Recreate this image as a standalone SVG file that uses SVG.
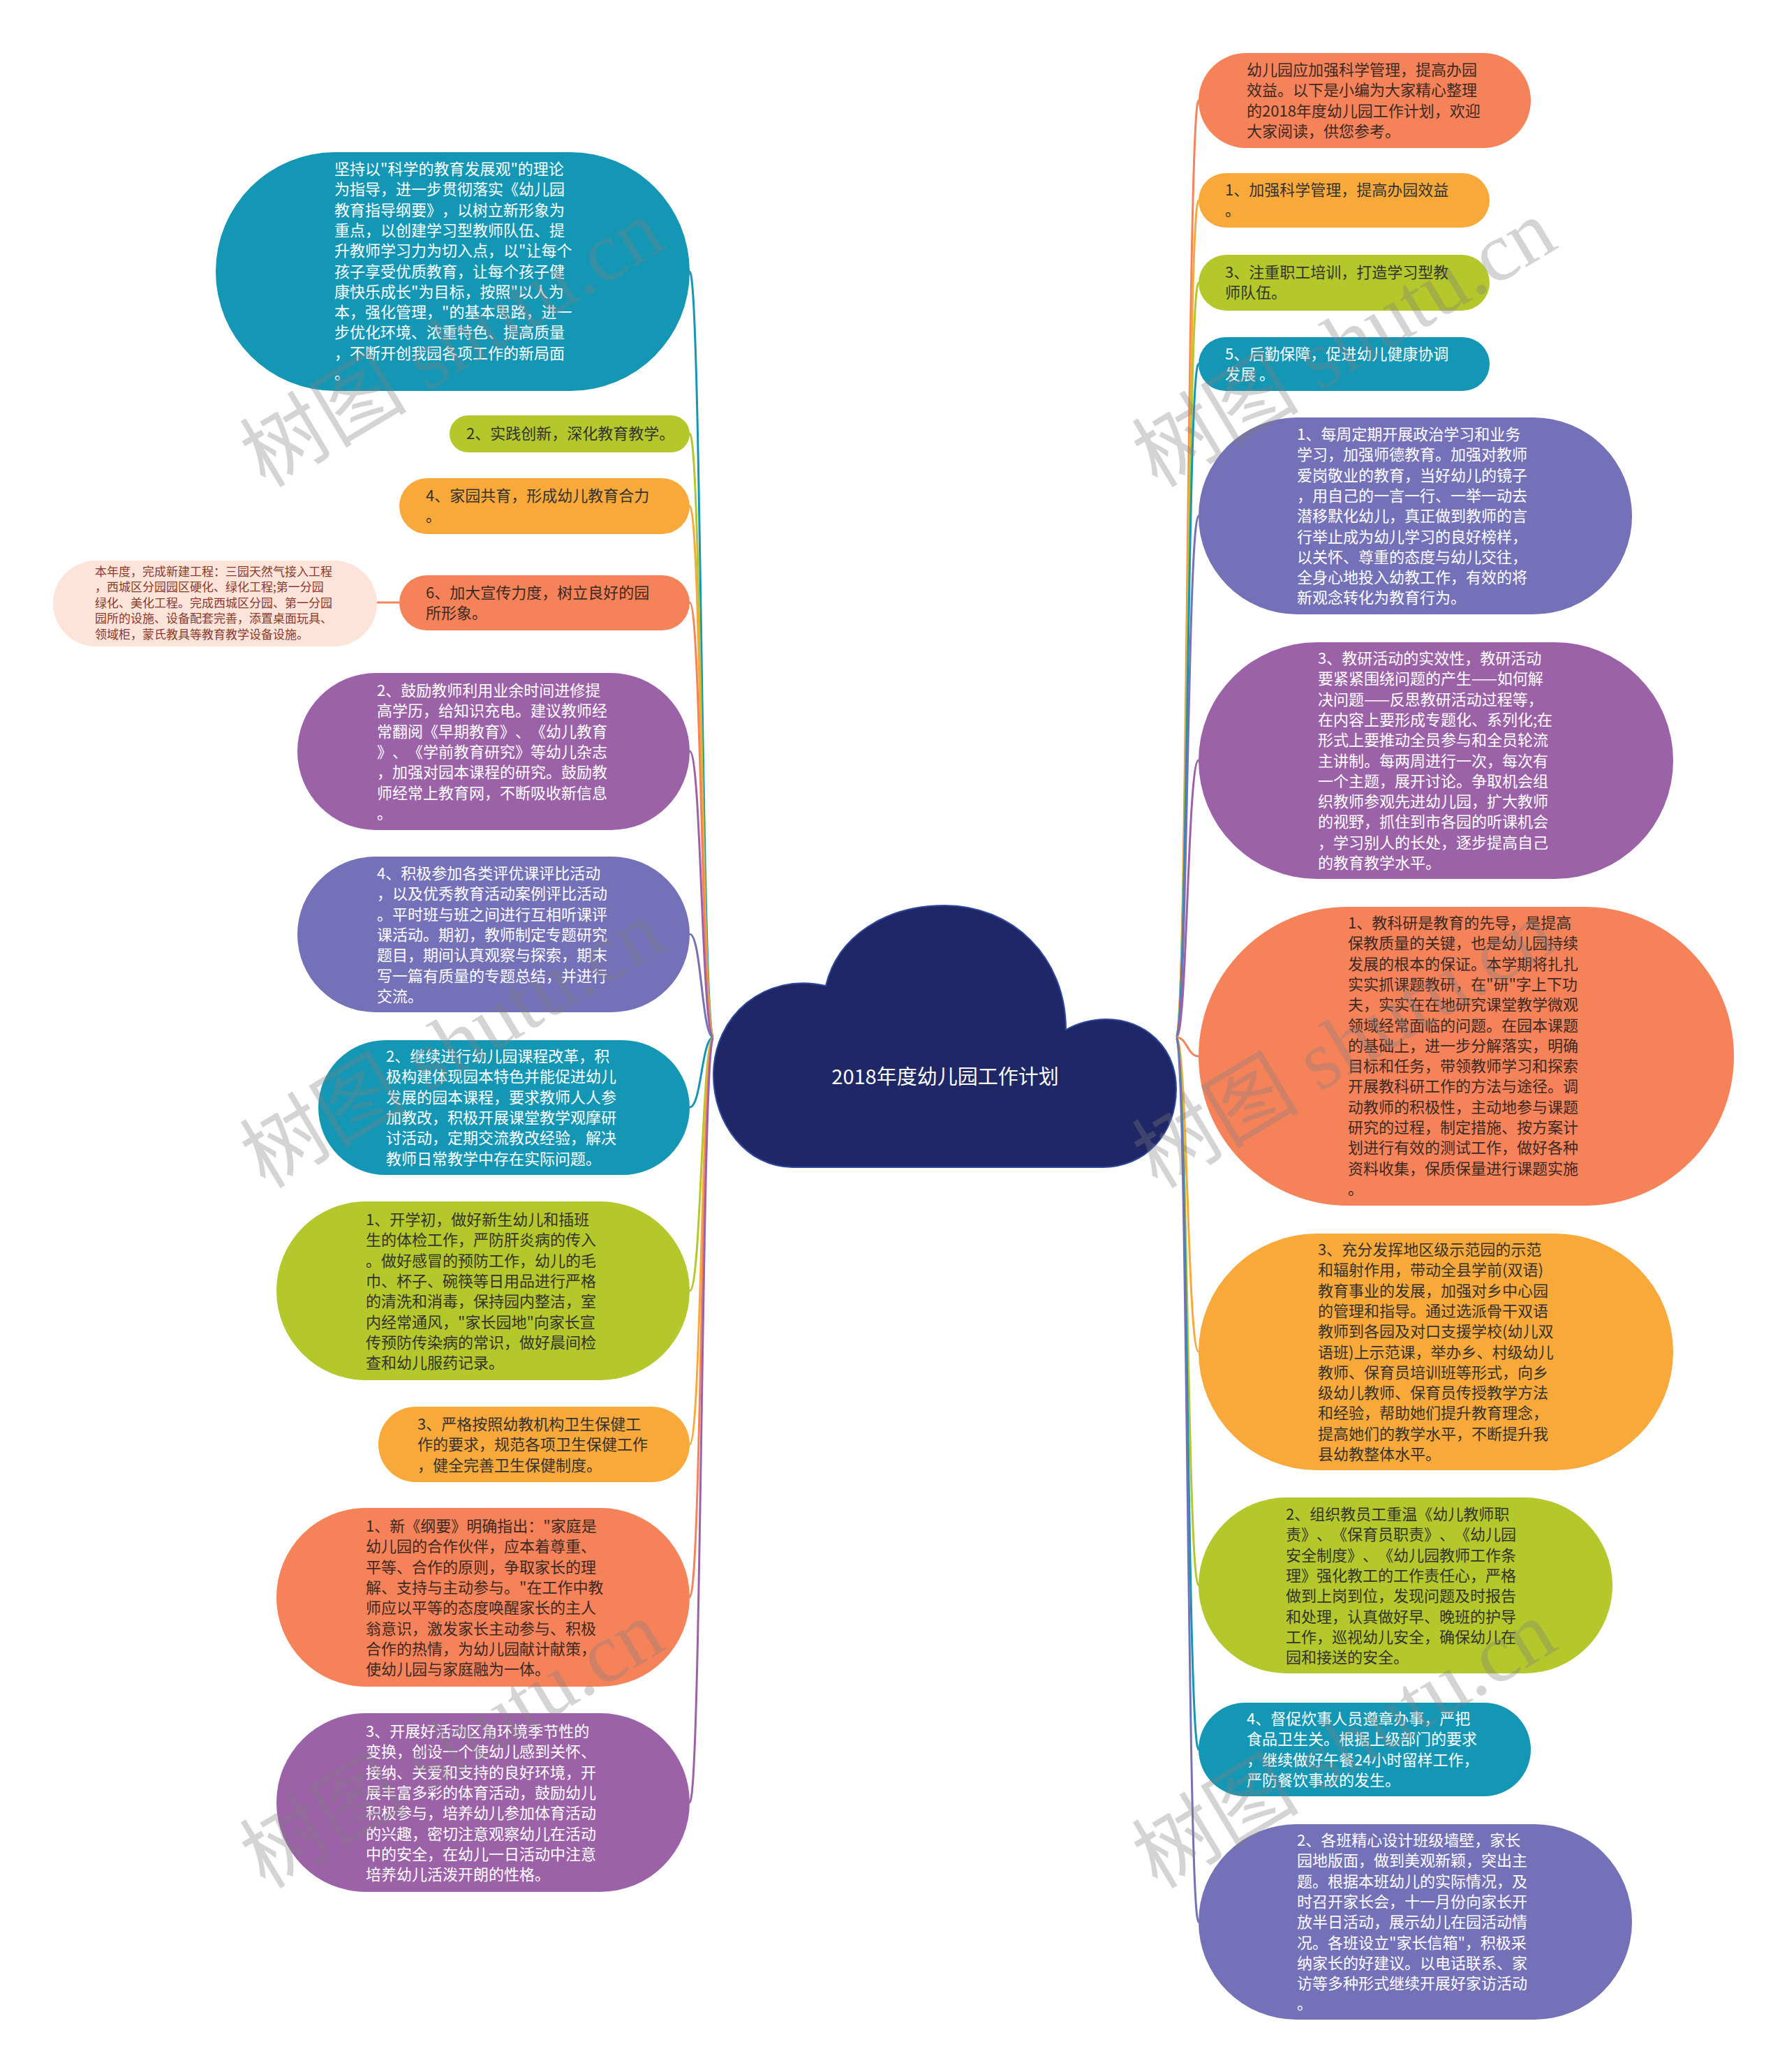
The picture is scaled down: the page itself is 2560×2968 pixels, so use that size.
<svg xmlns="http://www.w3.org/2000/svg" width="2560" height="2968" viewBox="0 0 2560 2968">
<style>
.teal{fill:#1497b5}.green{fill:#b4c72b}.orange{fill:#f9a93a}.coral{fill:#f6825a}.purple{fill:#9c62a8}.violet{fill:#7571b8}.pink{fill:#fce4da}
.c{fill:none;stroke-width:3}
.ct{stroke:#1497b5}.cg{stroke:#b4c72b}.co{stroke:#f9a93a}.cc{stroke:#f6825a}.cp{stroke:#9c62a8}.cv{stroke:#7571b8}
text{font-family:"Noto Sans CJK SC","Liberation Sans",sans-serif;font-size:22px;text-spacing-trim:space-all;font-feature-settings:"halt" 0,"chws" 0}
.w{fill:#ffffff}.d{fill:#333333}.b{fill:#3b2a24}
.s{font-size:17px;fill:#8b3a2a}
.title{font-size:29px;fill:#ffffff;text-anchor:middle}
.wm{font-family:"Liberation Serif","Noto Sans CJK SC",serif;font-size:120px;fill:#7f7f7f;opacity:0.33}
</style>
<rect width="2560" height="2968" fill="#ffffff"/>
<g id="connectors">
<path class="c ct" d="M1022,1486 C1005,1486 1005,389 988,389"/>
<path class="c cg" d="M1022,1486 C1005,1486 1005,621 988,621"/>
<path class="c co" d="M1022,1486 C1005,1486 1005,725 988,725"/>
<path class="c cc" d="M1022,1486 C1005,1486 1005,863 988,863"/>
<path class="c cp" d="M1022,1486 C1005,1486 1005,1076 988,1076"/>
<path class="c cv" d="M1022,1486 C1005,1486 1005,1338 988,1338"/>
<path class="c ct" d="M1022,1486 C1005,1486 1005,1586 988,1586"/>
<path class="c cg" d="M1022,1486 C1005,1486 1005,1849 988,1849"/>
<path class="c co" d="M1022,1486 C1005,1486 1005,2069 988,2069"/>
<path class="c cc" d="M1022,1486 C1005,1486 1005,2288 988,2288"/>
<path class="c cp" d="M1022,1486 C1005,1486 1005,2582 988,2582"/>
<path class="c cc" d="M572,863 L540,863"/>
<path class="c cc" d="M1685,1486 C1701,1486 1701,144 1717,144"/>
<path class="c co" d="M1685,1486 C1701,1486 1701,287 1717,287"/>
<path class="c cg" d="M1685,1486 C1701,1486 1701,405 1717,405"/>
<path class="c ct" d="M1685,1486 C1701,1486 1701,521 1717,521"/>
<path class="c cv" d="M1685,1486 C1701,1486 1701,739 1717,739"/>
<path class="c cp" d="M1685,1486 C1701,1486 1701,1089 1717,1089"/>
<path class="c cc" d="M1685,1486 C1701,1486 1701,1513 1717,1513"/>
<path class="c co" d="M1685,1486 C1701,1486 1701,1936 1717,1936"/>
<path class="c cg" d="M1685,1486 C1701,1486 1701,2271 1717,2271"/>
<path class="c ct" d="M1685,1486 C1701,1486 1701,2506 1717,2506"/>
<path class="c cv" d="M1685,1486 C1701,1486 1701,2753 1717,2753"/>
</g>
<g id="root">
<path d="M1135,1672 C1070,1672 1022,1610 1022,1540 C1022,1455 1095,1392 1183,1412 C1200,1340 1270,1297 1353,1297 C1450,1297 1527,1370 1527,1475 C1545,1465 1565,1460 1585,1460 C1640,1460 1685,1500 1685,1560 C1685,1625 1640,1672 1580,1672 Z" fill="#1f2766" stroke="#2f4a9e" stroke-width="2"/>
<text class="title" x="1354" y="1553">2018年度幼儿园工作计划</text>
</g>
<g id="L1"><rect class="teal" x="309" y="218" width="679" height="342" rx="171"/>
<text class="w" x="479" y="250"><tspan x="479">坚持以"科学的教育发展观"的理论</tspan><tspan x="479" dy="29.3">为指导，进一步贯彻落实《幼儿园</tspan><tspan x="479" dy="29.3">教育指导纲要》，以树立新形象为</tspan><tspan x="479" dy="29.3">重点，以创建学习型教师队伍、提</tspan><tspan x="479" dy="29.3">升教师学习力为切入点，以"让每个</tspan><tspan x="479" dy="29.3">孩子享受优质教育，让每个孩子健</tspan><tspan x="479" dy="29.3">康快乐成长"为目标，按照"以人为</tspan><tspan x="479" dy="29.3">本，强化管理，"的基本思路，进一</tspan><tspan x="479" dy="29.3">步优化环境、浓重特色、提高质量</tspan><tspan x="479" dy="29.3">，不断开创我园各项工作的新局面</tspan><tspan x="479" dy="29.3">。</tspan></text></g>
<g id="L2"><rect class="green" x="644" y="595" width="344" height="53" rx="26.5"/>
<text class="d" x="668" y="629">2、实践创新，深化教育教学。</text></g>
<g id="L3"><rect class="orange" x="572" y="685" width="416" height="80" rx="40"/>
<text class="d" x="610" y="718"><tspan x="610">4、家园共育，形成幼儿教育合力</tspan><tspan x="610" dy="29.3">。</tspan></text></g>
<g id="L4"><rect class="coral" x="572" y="824" width="416" height="79" rx="39.5"/>
<text class="b" x="610" y="857"><tspan x="610">6、加大宣传力度，树立良好的园</tspan><tspan x="610" dy="29.3">所形象。</tspan></text></g>
<g id="L4a"><rect class="pink" x="76" y="803" width="464" height="123" rx="61.5"/>
<text class="s" x="136" y="825"><tspan x="136">本年度，完成新建工程：三园天然气接入工程</tspan><tspan x="136" dy="22.4">，西城区分园园区硬化、绿化工程;第一分园</tspan><tspan x="136" dy="22.4">绿化、美化工程。完成西城区分园、第一分园</tspan><tspan x="136" dy="22.4">园所的设施、设备配套完善，添置桌面玩具、</tspan><tspan x="136" dy="22.4">领域柜，蒙氏教具等教育教学设备设施。</tspan></text></g>
<g id="L5"><rect class="purple" x="426" y="964" width="562" height="225" rx="112.5"/>
<text class="w" x="540" y="997"><tspan x="540">2、鼓励教师利用业余时间进修提</tspan><tspan x="540" dy="29.3">高学历，给知识充电。建议教师经</tspan><tspan x="540" dy="29.3">常翻阅《早期教育》、《幼儿教育</tspan><tspan x="540" dy="29.3">》、《学前教育研究》等幼儿杂志</tspan><tspan x="540" dy="29.3">，加强对园本课程的研究。鼓励教</tspan><tspan x="540" dy="29.3">师经常上教育网，不断吸收新信息</tspan><tspan x="540" dy="29.3">。</tspan></text></g>
<g id="L6"><rect class="violet" x="426" y="1227" width="562" height="223" rx="111.5"/>
<text class="w" x="540" y="1259"><tspan x="540">4、积极参加各类评优课评比活动</tspan><tspan x="540" dy="29.3">，以及优秀教育活动案例评比活动</tspan><tspan x="540" dy="29.3">。平时班与班之间进行互相听课评</tspan><tspan x="540" dy="29.3">课活动。期初，教师制定专题研究</tspan><tspan x="540" dy="29.3">题目，期间认真观察与探索，期末</tspan><tspan x="540" dy="29.3">写一篇有质量的专题总结，并进行</tspan><tspan x="540" dy="29.3">交流。</tspan></text></g>
<g id="L7"><rect class="teal" x="456" y="1490" width="532" height="193" rx="96.5"/>
<text class="w" x="553" y="1521"><tspan x="553">2、继续进行幼儿园课程改革，积</tspan><tspan x="553" dy="29.3">极构建体现园本特色并能促进幼儿</tspan><tspan x="553" dy="29.3">发展的园本课程，要求教师人人参</tspan><tspan x="553" dy="29.3">加教改，积极开展课堂教学观摩研</tspan><tspan x="553" dy="29.3">讨活动，定期交流教改经验，解决</tspan><tspan x="553" dy="29.3">教师日常教学中存在实际问题。</tspan></text></g>
<g id="L8"><rect class="green" x="396" y="1721" width="592" height="256" rx="128"/>
<text class="d" x="524" y="1755"><tspan x="524">1、开学初，做好新生幼儿和插班</tspan><tspan x="524" dy="29.3">生的体检工作，严防肝炎病的传入</tspan><tspan x="524" dy="29.3">。做好感冒的预防工作，幼儿的毛</tspan><tspan x="524" dy="29.3">巾、杯子、碗筷等日用品进行严格</tspan><tspan x="524" dy="29.3">的清洗和消毒，保持园内整洁，室</tspan><tspan x="524" dy="29.3">内经常通风，"家长园地"向家长宣</tspan><tspan x="524" dy="29.3">传预防传染病的常识，做好晨间检</tspan><tspan x="524" dy="29.3">查和幼儿服药记录。</tspan></text></g>
<g id="L9"><rect class="orange" x="542" y="2015" width="446" height="108" rx="54"/>
<text class="d" x="598" y="2048"><tspan x="598">3、严格按照幼教机构卫生保健工</tspan><tspan x="598" dy="29.3">作的要求，规范各项卫生保健工作</tspan><tspan x="598" dy="29.3">，健全完善卫生保健制度。</tspan></text></g>
<g id="L10"><rect class="coral" x="396" y="2160" width="592" height="256" rx="128"/>
<text class="b" x="524" y="2194"><tspan x="524">1、新《纲要》明确指出："家庭是</tspan><tspan x="524" dy="29.3">幼儿园的合作伙伴，应本着尊重、</tspan><tspan x="524" dy="29.3">平等、合作的原则，争取家长的理</tspan><tspan x="524" dy="29.3">解、支持与主动参与。"在工作中教</tspan><tspan x="524" dy="29.3">师应以平等的态度唤醒家长的主人</tspan><tspan x="524" dy="29.3">翁意识，激发家长主动参与、积极</tspan><tspan x="524" dy="29.3">合作的热情，为幼儿园献计献策，</tspan><tspan x="524" dy="29.3">使幼儿园与家庭融为一体。</tspan></text></g>
<g id="L11"><rect class="purple" x="396" y="2454" width="592" height="256" rx="128"/>
<text class="w" x="524" y="2488"><tspan x="524">3、开展好活动区角环境季节性的</tspan><tspan x="524" dy="29.3">变换，创设一个使幼儿感到关怀、</tspan><tspan x="524" dy="29.3">接纳、关爱和支持的良好环境，开</tspan><tspan x="524" dy="29.3">展丰富多彩的体育活动，鼓励幼儿</tspan><tspan x="524" dy="29.3">积极参与，培养幼儿参加体育活动</tspan><tspan x="524" dy="29.3">的兴趣，密切注意观察幼儿在活动</tspan><tspan x="524" dy="29.3">中的安全，在幼儿一日活动中注意</tspan><tspan x="524" dy="29.3">培养幼儿活泼开朗的性格。</tspan></text></g>
<g id="R1"><rect class="coral" x="1717" y="76" width="476" height="136" rx="68"/>
<text class="b" x="1786" y="108"><tspan x="1786">幼儿园应加强科学管理，提高办园</tspan><tspan x="1786" dy="29.3">效益。以下是小编为大家精心整理</tspan><tspan x="1786" dy="29.3">的2018年度幼儿园工作计划，欢迎</tspan><tspan x="1786" dy="29.3">大家阅读，供您参考。</tspan></text></g>
<g id="R2"><rect class="orange" x="1717" y="248" width="417" height="78" rx="39"/>
<text class="d" x="1755" y="280"><tspan x="1755">1、加强科学管理，提高办园效益</tspan><tspan x="1755" dy="29.3">。</tspan></text></g>
<g id="R3"><rect class="green" x="1717" y="365" width="417" height="80" rx="40"/>
<text class="d" x="1755" y="398"><tspan x="1755">3、注重职工培训，打造学习型教</tspan><tspan x="1755" dy="29.3">师队伍。</tspan></text></g>
<g id="R4"><rect class="teal" x="1717" y="483" width="417" height="77" rx="38.5"/>
<text class="w" x="1755" y="515"><tspan x="1755">5、后勤保障，促进幼儿健康协调</tspan><tspan x="1755" dy="29.3">发展 。</tspan></text></g>
<g id="R5"><rect class="violet" x="1717" y="598" width="621" height="282" rx="141"/>
<text class="w" x="1858" y="630"><tspan x="1858">1、每周定期开展政治学习和业务</tspan><tspan x="1858" dy="29.3">学习，加强师德教育。加强对教师</tspan><tspan x="1858" dy="29.3">爱岗敬业的教育，当好幼儿的镜子</tspan><tspan x="1858" dy="29.3">，用自己的一言一行、一举一动去</tspan><tspan x="1858" dy="29.3">潜移默化幼儿，真正做到教师的言</tspan><tspan x="1858" dy="29.3">行举止成为幼儿学习的良好榜样，</tspan><tspan x="1858" dy="29.3">以关怀、尊重的态度与幼儿交往，</tspan><tspan x="1858" dy="29.3">全身心地投入幼教工作，有效的将</tspan><tspan x="1858" dy="29.3">新观念转化为教育行为。</tspan></text></g>
<g id="R6"><rect class="purple" x="1717" y="920" width="680" height="339" rx="169.5"/>
<text class="w" x="1888" y="951"><tspan x="1888">3、教研活动的实效性，教研活动</tspan><tspan x="1888" dy="29.3">要紧紧围绕问题的产生——如何解</tspan><tspan x="1888" dy="29.3">决问题——反思教研活动过程等，</tspan><tspan x="1888" dy="29.3">在内容上要形成专题化、系列化;在</tspan><tspan x="1888" dy="29.3">形式上要推动全员参与和全员轮流</tspan><tspan x="1888" dy="29.3">主讲制。每两周进行一次，每次有</tspan><tspan x="1888" dy="29.3">一个主题，展开讨论。争取机会组</tspan><tspan x="1888" dy="29.3">织教师参观先进幼儿园，扩大教师</tspan><tspan x="1888" dy="29.3">的视野，抓住到市各园的听课机会</tspan><tspan x="1888" dy="29.3">，学习别人的长处，逐步提高自己</tspan><tspan x="1888" dy="29.3">的教育教学水平。</tspan></text></g>
<g id="R7"><rect class="coral" x="1717" y="1299" width="767" height="428" rx="214"/>
<text class="b" x="1931" y="1330"><tspan x="1931">1、教科研是教育的先导，是提高</tspan><tspan x="1931" dy="29.3">保教质量的关键，也是幼儿园持续</tspan><tspan x="1931" dy="29.3">发展的根本的保证。本学期将扎扎</tspan><tspan x="1931" dy="29.3">实实抓课题教研，在"研"字上下功</tspan><tspan x="1931" dy="29.3">夫，实实在在地研究课堂教学微观</tspan><tspan x="1931" dy="29.3">领域经常面临的问题。在园本课题</tspan><tspan x="1931" dy="29.3">的基础上，进一步分解落实，明确</tspan><tspan x="1931" dy="29.3">目标和任务，带领教师学习和探索</tspan><tspan x="1931" dy="29.3">开展教科研工作的方法与途径。调</tspan><tspan x="1931" dy="29.3">动教师的积极性，主动地参与课题</tspan><tspan x="1931" dy="29.3">研究的过程，制定措施、按方案计</tspan><tspan x="1931" dy="29.3">划进行有效的测试工作，做好各种</tspan><tspan x="1931" dy="29.3">资料收集，保质保量进行课题实施</tspan><tspan x="1931" dy="29.3">。</tspan></text></g>
<g id="R8"><rect class="orange" x="1717" y="1767" width="680" height="339" rx="169.5"/>
<text class="d" x="1888" y="1798"><tspan x="1888">3、充分发挥地区级示范园的示范</tspan><tspan x="1888" dy="29.3">和辐射作用，带动全县学前(双语)</tspan><tspan x="1888" dy="29.3">教育事业的发展，加强对乡中心园</tspan><tspan x="1888" dy="29.3">的管理和指导。通过选派骨干双语</tspan><tspan x="1888" dy="29.3">教师到各园及对口支援学校(幼儿双</tspan><tspan x="1888" dy="29.3">语班)上示范课，举办乡、村级幼儿</tspan><tspan x="1888" dy="29.3">教师、保育员培训班等形式，向乡</tspan><tspan x="1888" dy="29.3">级幼儿教师、保育员传授教学方法</tspan><tspan x="1888" dy="29.3">和经验，帮助她们提升教育理念，</tspan><tspan x="1888" dy="29.3">提高她们的教学水平，不断提升我</tspan><tspan x="1888" dy="29.3">县幼教整体水平。</tspan></text></g>
<g id="R9"><rect class="green" x="1717" y="2145" width="593" height="252" rx="126"/>
<text class="d" x="1842" y="2177"><tspan x="1842">2、组织教员工重温《幼儿教师职</tspan><tspan x="1842" dy="29.3">责》、《保育员职责》、《幼儿园</tspan><tspan x="1842" dy="29.3">安全制度》、《幼儿园教师工作条</tspan><tspan x="1842" dy="29.3">理》强化教工的工作责任心，严格</tspan><tspan x="1842" dy="29.3">做到上岗到位，发现问题及时报告</tspan><tspan x="1842" dy="29.3">和处理，认真做好早、晚班的护导</tspan><tspan x="1842" dy="29.3">工作，巡视幼儿安全，确保幼儿在</tspan><tspan x="1842" dy="29.3">园和接送的安全。</tspan></text></g>
<g id="R10"><rect class="teal" x="1717" y="2439" width="476" height="134" rx="67"/>
<text class="w" x="1786" y="2470"><tspan x="1786">4、督促炊事人员遵章办事，严把</tspan><tspan x="1786" dy="29.3">食品卫生关。根据上级部门的要求</tspan><tspan x="1786" dy="29.3">，继续做好午餐24小时留样工作，</tspan><tspan x="1786" dy="29.3">严防餐饮事故的发生。</tspan></text></g>
<g id="R11"><rect class="violet" x="1717" y="2613" width="621" height="280" rx="140"/>
<text class="w" x="1858" y="2644"><tspan x="1858">2、各班精心设计班级墙壁，家长</tspan><tspan x="1858" dy="29.3">园地版面，做到美观新颖，突出主</tspan><tspan x="1858" dy="29.3">题。根据本班幼儿的实际情况，及</tspan><tspan x="1858" dy="29.3">时召开家长会，十一月份向家长开</tspan><tspan x="1858" dy="29.3">放半日活动，展示幼儿在园活动情</tspan><tspan x="1858" dy="29.3">况。各班设立"家长信箱"，积极采</tspan><tspan x="1858" dy="29.3">纳家长的好建议。以电话联系、家</tspan><tspan x="1858" dy="29.3">访等多种形式继续开展好家访活动</tspan><tspan x="1858" dy="29.3">。</tspan></text></g>
<g id="watermarks">
<text class="wm" transform="translate(380,700) rotate(-31)">树图 shutu.cn</text>
<text class="wm" transform="translate(1658,700) rotate(-31)">树图 shutu.cn</text>
<text class="wm" transform="translate(380,1704) rotate(-31)">树图 shutu.cn</text>
<text class="wm" transform="translate(1658,1704) rotate(-31)">树图 shutu.cn</text>
<text class="wm" transform="translate(380,2707) rotate(-31)">树图 shutu.cn</text>
<text class="wm" transform="translate(1658,2707) rotate(-31)">树图 shutu.cn</text>
</g>
</svg>
